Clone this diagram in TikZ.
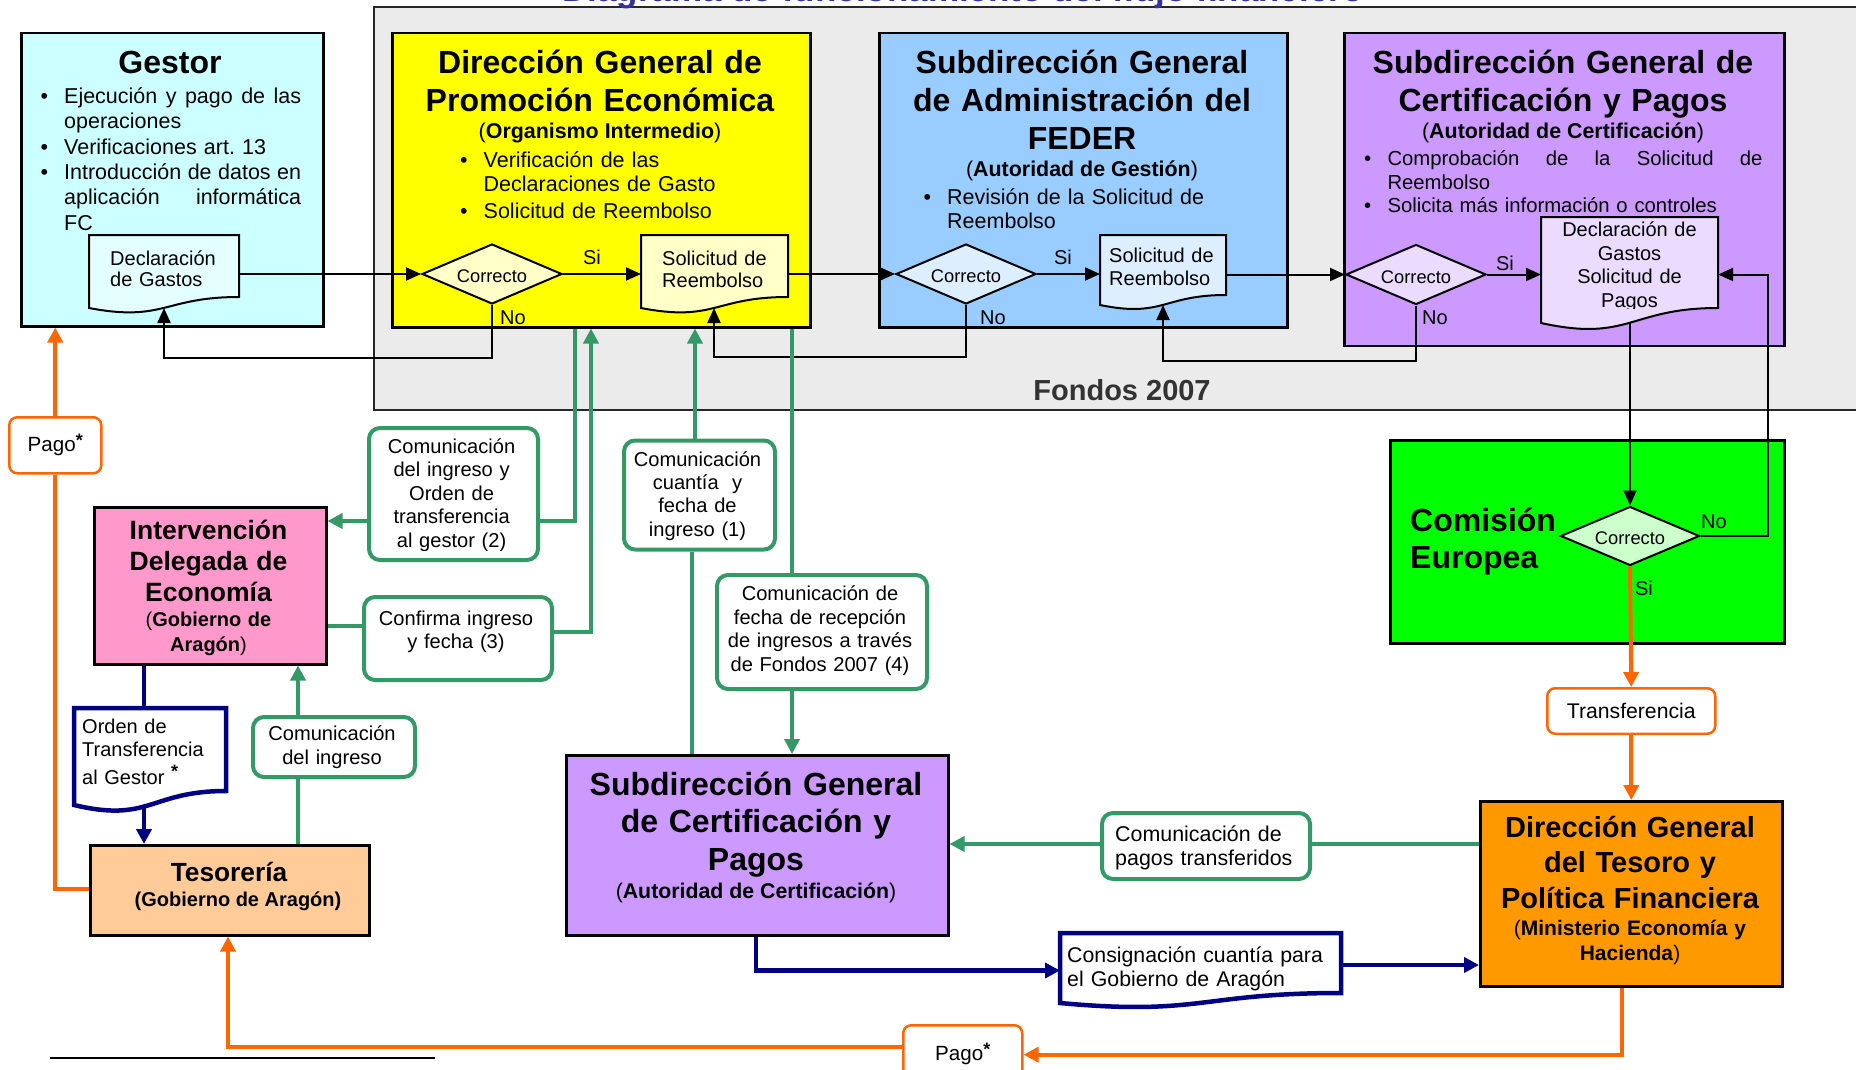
\documentclass[tikz,border=0pt]{standalone}
\usepackage{fontspec}
\setmainfont{Liberation Sans}
\usetikzlibrary{arrows.meta,shapes.geometric,calc}
\definecolor{gcyan}{HTML}{CCFFFF}
\definecolor{gyellow}{HTML}{FFFF00}
\definecolor{gblue}{HTML}{99CCFF}
\definecolor{gpurple}{HTML}{CC99FF}
\definecolor{ggreen}{HTML}{00FF00}
\definecolor{gpink}{HTML}{FF99CC}
\definecolor{gpeach}{HTML}{FFCC99}
\definecolor{gorange}{HTML}{FF9900}
\definecolor{lorange}{HTML}{FF6600}
\definecolor{lgreen}{HTML}{339966}
\definecolor{lnavy}{HTML}{000080}
\definecolor{gbg}{HTML}{EBEBEB}
\definecolor{ttl}{HTML}{333399}
\definecolor{dcyan}{HTML}{E4FFFF}
\definecolor{dyellow}{HTML}{FFFFC8}
\definecolor{dblue}{HTML}{DDEEFF}
\definecolor{dpurple}{HTML}{EADBFF}
\definecolor{dgreen}{HTML}{CCFFCC}
\newcommand\orgnode[6]{\node[orgbox,#6,minimum width={#4-#2},minimum height={#5-#3}] (#1) at (#2,#3) {};}
\newcommand\docnode[5]{\node[inner sep=0pt,anchor=north west,minimum width={#4-#2},minimum height={#5-#3}] (#1) at (#2,#3) {};}
\newcommand\docshape[6]{\path[#6] (#1,#2) -- (#3,#2) -- (#3,#4) .. controls ({(#1+#3)/2},#4) and ({(#1+#3)/2},{#4+2.3*(#5-#4)}) .. (#1,#5) -- cycle;}
\newcommand\bitem{\makebox[23.5pt][l]{\textbullet}}
\newcommand\astk[1]{\raisebox{#1}{\bfseries\fontsize{18}{18}\selectfont *}}
\tikzset{
  orgbox/.style={draw=black, line width=2.5pt, inner sep=0pt, anchor=north west},
  dia/.style={diamond, draw=black, line width=2pt, aspect=2.33, minimum width=140pt, minimum height=60pt, inner sep=0pt, text height=17.4pt, text depth=0pt, font=\fontsize{18.3}{20}\selectfont},
  lbl/.style={inner sep=0pt, font=\fontsize{20}{22}\selectfont},
  head/.style={inner sep=0pt, anchor=base, align=center, font=\bfseries\fontsize{32}{38}\selectfont},
  sub/.style={inner sep=0pt, anchor=base, font=\fontsize{21.4}{25}\selectfont},
  list/.style={inner sep=0pt, anchor=base west, align=left, font=\fontsize{21.5}{25.4}\selectfont},
  dtxt/.style={inner sep=0pt, anchor=base west, align=left, font=\fontsize{20}{21.7}\selectfont},
  ctxt/.style={inner sep=0pt, anchor=base, align=center, font=\fontsize{20.1}{23.4}\selectfont},
  blk/.style={draw=black, line width=2pt, -{Triangle[length=15pt,width=13pt]}},
  grn/.style={draw=lgreen, line width=4pt},
  grnA/.style={grn, -{Triangle[length=15pt,width=15pt]}},
  org/.style={draw=lorange, line width=4pt},
  orgA/.style={org, -{Triangle[length=15pt,width=15pt]}},
  nvy/.style={draw=lnavy, line width=4.5pt},
  nvyA/.style={nvy, -{Triangle[length=15pt,width=15pt]}},
  gbox/.style={draw=lgreen, line width=4pt, rounded corners=11pt, fill=white, inner sep=0pt, anchor=north west},
  obox/.style={draw=lorange, line width=2.5pt, rounded corners=8pt, fill=white, inner sep=0pt, anchor=north west},
}
\begin{document}
\frenchspacing
\begin{tikzpicture}[x=1pt,y=-1pt]
\useasboundingbox (0,0) rectangle (1856,1070);
\fill[white] (0,0) rectangle (1856,1070);
% background Fondos 2007
\node[fill=gbg, draw=black!85, line width=2pt, anchor=north west, minimum width=1527pt, minimum height=403pt, inner sep=0pt] (fondosbg) at (373,6) {};
\node[inner sep=0pt, anchor=base, text=ttl, font=\bfseries\fontsize{35}{40}\selectfont] (title) at (963,2) {Diagrama de funcionamiento del flujo financiero};
\node[inner sep=0pt, anchor=base, text=black!80, font=\bfseries\fontsize{29}{33}\selectfont] (fondos) at (1122,400) {Fondos 2007};

% Gestor
\orgnode{gestor}{20}{32}{322}{325}{fill=gcyan}
\node[head] (gestorT) at (170,73.8) {Gestor};
\node[list, text width=275pt] (gestorL) at (40.5,103.4) {\bitem\makebox[237pt][s]{Ejecución\hfill y\hfill pago\hfill de\hfill las}\\ \hspace*{23.5pt}operaciones\\ \bitem Verificaciones art. 13\\ \bitem\makebox[237pt][s]{Introducción\hfill de\hfill datos\hfill en}\\ \hspace*{23.5pt}\makebox[237pt][s]{aplicación\hfill informática}\\ \hspace*{23.5pt}FC};
\docshape{89}{235}{239}{297}{308}{fill=dcyan,draw=black,line width=2pt}
\docnode{gdoc}{89}{235}{239}{297}
\node[dtxt, text width=125pt] (gdocT) at (110,265) {Declaración\\de Gastos};
\coordinate (gdocB) at (164,308);

% Direccion General de Promocion Economica
\orgnode{dgpe}{391}{32}{809}{326}{fill=gyellow}
\node[head, text width=410pt] (dgpeT) at (600,73.3) {Dirección General de\\Promoción Económica};
\node[sub] (dgpeS) at (600,138.5) {(\textbf{Organismo Intermedio})};
\node[list, text width=330pt, font=\fontsize{21.5}{24.3}\selectfont] (dgpeL) at (460,167.2) {\bitem Verificación de las\\ \hspace*{23.5pt}Declaraciones de Gasto\\[2.4pt] \bitem Solicitud de Reembolso};
\node[dia, fill=dyellow] (d1) at (492,274) {Correcto};
\docshape{641}{235}{788}{297}{308}{fill=dyellow,draw=black,line width=2pt}
\docnode{docY}{641}{235}{788}{297}
\node[dtxt, text width=125pt, font=\fontsize{20}{22.7}\selectfont] (docYT) at (662,265) {Solicitud de\\Reembolso};
\coordinate (docYB) at (714,308);

% Subdireccion General de Administracion del FEDER
\orgnode{sgaf}{878}{32}{1286}{326}{fill=gblue}
\node[head, text width=400pt] (sgafT) at (1082,73.3) {Subdirección General\\de Administración del\\FEDER};
\node[sub] (sgafS) at (1082,176.5) {(\textbf{Autoridad de Gestión})};
\node[list, text width=340pt, font=\fontsize{21.5}{24.4}\selectfont] (sgafL) at (923.5,204.5) {\bitem Revisión de la Solicitud de\\ \hspace*{23.5pt}Reembolso};
\node[dia, fill=dblue] (d2) at (966,274) {Correcto};
\docshape{1100}{235}{1226}{295}{305}{fill=dblue,draw=black,line width=2pt}
\docnode{docB}{1100}{235}{1226}{295}
\node[dtxt, text width=120pt, font=\fontsize{20}{23}\selectfont] (docBT) at (1109,262.7) {Solicitud de\\Reembolso};
\coordinate (docBB) at (1163,305);

% Subdireccion General de Certificacion y Pagos (top)
\orgnode{sgcp}{1343}{32}{1783}{344.5}{fill=gpurple}
\node[head, text width=430pt] (sgcpT) at (1563,73.3) {Subdirección General de\\Certificación y Pagos};
\node[sub] (sgcpS) at (1563,138.5) {(\textbf{Autoridad de Certificación})};
\node[list, text width=405pt, font=\fontsize{20.3}{23.6}\selectfont] (sgcpL) at (1363.8,165.5) {\bitem\makebox[375pt][s]{Comprobación\hfill de\hfill la\hfill Solicitud\hfill de}\\ \hspace*{23.5pt}Reembolso\\ \bitem Solicita más información o controles};
\node[dia, fill=dpurple] (d3) at (1416,274.5) {Correcto};
\docshape{1541}{217}{1718}{308}{323}{fill=dpurple,draw=black,line width=2pt}
\docnode{docP}{1541}{217}{1718}{308}
\begin{scope}
\clip (1541,217) rectangle (1718,308);
\node[ctxt, text width=170pt, font=\fontsize{20}{23.5}\selectfont] (docPT) at (1629.5,236.7) {Declaración de\\Gastos\\Solicitud de\\Pagos};
\end{scope}
\coordinate (docPB) at (1630,322.8);
\coordinate (docPR) at (1718,274.5);

% Comision Europea
\orgnode{ce}{1389}{439}{1783}{642}{fill=ggreen}
\node[inner sep=0pt, anchor=base west, align=left, text width=200pt, font=\bfseries\fontsize{32}{36.5}\selectfont] (ceT) at (1410,531.5) {Comisión\\Europea};
\node[dia, fill=dgreen, minimum width=139pt, minimum height=59pt] (d4) at (1630,536) {Correcto};

% Intervencion Delegada
\orgnode{ide}{93}{506}{325}{663}{fill=gpink}
\node[inner sep=0pt, anchor=base, align=center, text width=228pt, font=\bfseries\fontsize{26.5}{31}\selectfont] (ideT) at (208.5,539) {Intervención\\Delegada de\\Economía};
\node[inner sep=0pt, anchor=base, align=center, text width=228pt, font=\fontsize{20}{24.8}\selectfont] (ideS) at (208.5,626.5) {(\textbf{Gobierno de}\\\textbf{Aragón})};

% Tesoreria
\orgnode{teso}{89}{844}{368}{934}{fill=gpeach}
\node[inner sep=0pt, anchor=base, font=\bfseries\fontsize{26.3}{31}\selectfont] (tesoT) at (229,881) {Tesorería};
\node[inner sep=0pt, anchor=base, font=\bfseries\fontsize{20}{24}\selectfont] (tesoS) at (238,906.4) {(Gobierno de Aragón)};

% Subdireccion General de Certificacion y Pagos (bottom)
\orgnode{sgcpb}{565}{754}{947}{934}{fill=gpurple}
\node[head, text width=375pt, font=\bfseries\fontsize{32}{37.8}\selectfont] (sgcpbT) at (756,795) {Subdirección General\\de Certificación y\\Pagos};
\node[sub, font=\fontsize{21.3}{25}\selectfont] (sgcpbS) at (756,898) {(\textbf{Autoridad de Certificación})};

% Direccion General del Tesoro
\orgnode{dgt}{1479}{800}{1781}{985}{fill=gorange}
\node[inner sep=0pt, anchor=base, align=center, text width=298pt, font=\bfseries\fontsize{29}{35.5}\selectfont] (dgtT) at (1630,837) {Dirección General\\del Tesoro y\\Política Financiera};
\node[inner sep=0pt, anchor=base, align=center, text width=298pt, font=\fontsize{21}{25}\selectfont] (dgtS) at (1630,935) {(\textbf{Ministerio Economía y}\\\textbf{Hacienda})};

% Green communication boxes
\node[gbox, minimum width=169pt, minimum height=132pt] (b2) at (367,426) {};
\begin{scope}
\clip (367,426) rectangle (536,550);
\node[ctxt, text width=165pt] (b2T) at (451.6,453.4) {Comunicación\\del ingreso y\\Orden de\\transferencia\\al gestor (2)};
\end{scope}
\node[gbox, minimum width=151pt, minimum height=109pt] (b1) at (622,438.5) {};
\node[ctxt, text width=148pt] (b1T) at (697.5,466) {Comunicación\\cuantía\ \ y\\fecha de\\ingreso (1)};
\node[gbox, minimum width=188pt, minimum height=83pt] (cf) at (362,595) {};
\node[ctxt, text width=184pt] (cfT) at (456,625.2) {Confirma ingreso\\y fecha (3)};
\node[gbox, minimum width=210pt, minimum height=114pt] (b4) at (715,573) {};
\node[ctxt, text width=205pt] (b4T) at (820,600.9) {Comunicación de\\fecha de recepción\\de ingresos a través\\de Fondos 2007 (4)};
\node[gbox, minimum width=162pt, minimum height=60pt] (ci) at (251,715) {};
\node[ctxt, text width=158pt] (ciT) at (332,740.6) {Comunicación\\del ingreso};
\node[gbox, minimum width=208pt, minimum height=66pt] (cp) at (1100,811) {};
\begin{scope}
\clip (1100,811) rectangle (1308,870);
\node[dtxt, text width=190pt, font=\fontsize{21.4}{24.8}\selectfont] (cpT) at (1115,841) {Comunicación de\\pagos transferidos};
\end{scope}

% Orange boxes
\node[obox, minimum width=92pt, minimum height=56pt, font=\fontsize{20.6}{24}\selectfont] (pl) at (8,416) {Pago\astk{5pt}};
\node[obox, minimum width=168pt, minimum height=45.5pt, font=\fontsize{21.2}{24}\selectfont] (tr) at (1546,687) {Transferencia};
\node[obox, minimum width=119pt, minimum height=58pt, font=\fontsize{20.6}{24}\selectfont] (pb) at (902,1024) {Pago\astk{5pt}};

% Navy documents
\docshape{74}{708}{226}{791}{805}{fill=white,draw=lnavy,line width=4.5pt}
\docnode{orden}{74}{708}{226}{791}
\node[dtxt, text width=145pt, font=\fontsize{20}{23}\selectfont] (ordenT) at (82,733) {Orden de\\Transferencia\\[5.5pt]al Gestor \astk{7pt}};
\coordinate (ordenB) at (144,805);
\docshape{1060}{933}{1341}{993}{1003}{fill=white,draw=lnavy,line width=4.5pt}
\docnode{cons}{1060}{933}{1341}{993}
\begin{scope}
\clip (1060,933) rectangle (1341,990);
\node[dtxt, text width=275pt, font=\fontsize{21.3}{24.3}\selectfont] (consT) at (1067,962) {Consignación cuantía para\\el Gobierno de Aragón};
\end{scope}

% Labels
\node[lbl] (si1) at (592,257) {Si};
\node[lbl] (no1) at (513,318) {No};
\node[lbl] (si2) at (1063,257) {Si};
\node[lbl] (no2) at (993,318) {No};
\node[lbl] (si3) at (1505,263) {Si};
\node[lbl] (no3) at (1435,317.5) {No};
\node[lbl] (no4) at (1714,522) {No};
\node[lbl] (si4) at (1644,588) {Si};

% Black connectors
\draw[blk] (d1.west -| gdoc.east) -- (d1.west);
\draw[blk] (d1.east) -- (d1.east -| docY.west);
\draw[blk] (d2.west -| docY.east) -- (d2.west);
\draw[blk] (d2.east) -- (d2.east -| docB.west);
\draw[blk] (d3.west -| docB.east) -- (d3.west);
\draw[blk] (d3.east) -- (d3.east -| docP.west);
\draw[blk] (d1.south) -- ++(0,53) -| (gdocB);
\draw[blk] (d2.south) -- ++(0,52) -| (docYB);
\draw[blk] (d3.south) -- ++(0,55) -| (docBB);
\draw[blk] (docPB) -- (d4.north);
\draw[blk] (d4.east) -- ++(67,0) |- (docPR);

% Green connectors
\draw[grn] (575,0 |- dgpe.south) |- (b2.east |- 0,521);
\draw[grnA] (b2.west |- 0,521) -- (ide.east |- 0,521);
\draw[grn] (ide.east |- 0,626) -- (cf.west |- 0,626);
\draw[grnA] (cf.east |- 0,632) -| (591,0 |- dgpe.south);
\draw[grn] (692,0 |- sgcpb.north) -- (692,0 |- b1.south);
\draw[grnA] (695,0 |- b1.north) -- (695,0 |- dgpe.south);
\draw[grn] (792,0 |- dgpe.south) -- (792,0 |- b4.north);
\draw[grnA] (792,0 |- b4.south) -- (792,0 |- sgcpb.north);
\draw[grn] (298,0 |- teso.north) -- (298,0 |- ci.south);
\draw[grnA] (298,0 |- ci.north) -- (298,0 |- ide.south);
\draw[grn] (dgt.west |- 0,844) -- (cp.east |- 0,844);
\draw[grnA] (cp.west |- 0,844) -- (sgcpb.east |- 0,844);

% Orange connectors
\draw[org] (teso.west |- 0,889) -| (pl.south);
\draw[orgA] (pl.north) -- (pl.north |- gestor.south);
\draw[orgA] (d4.south) -- (tr.north);
\draw[orgA] (tr.south) -- (tr.south |- dgt.north);
\draw[orgA] (1622,0 |- dgt.south) |- (pb.east |- 0,1054.7);
\draw[orgA] (pb.west |- 0,1046.6) -| (228,0 |- teso.south);

% Navy connectors
\draw[nvy] (144,0 |- ide.south) -- (144,0 |- orden.north);
\draw[nvyA] (ordenB) -- (144,0 |- teso.north);
\draw[nvyA] (756,0 |- sgcpb.south) |- (cons.west |- 0,970.5);
\draw[nvyA] (cons.east |- 0,965) -- (dgt.west |- 0,965);

% footnote rule
\draw[line width=2.5pt] (50,1058) -- (435,1058);
\end{tikzpicture}
\end{document}
